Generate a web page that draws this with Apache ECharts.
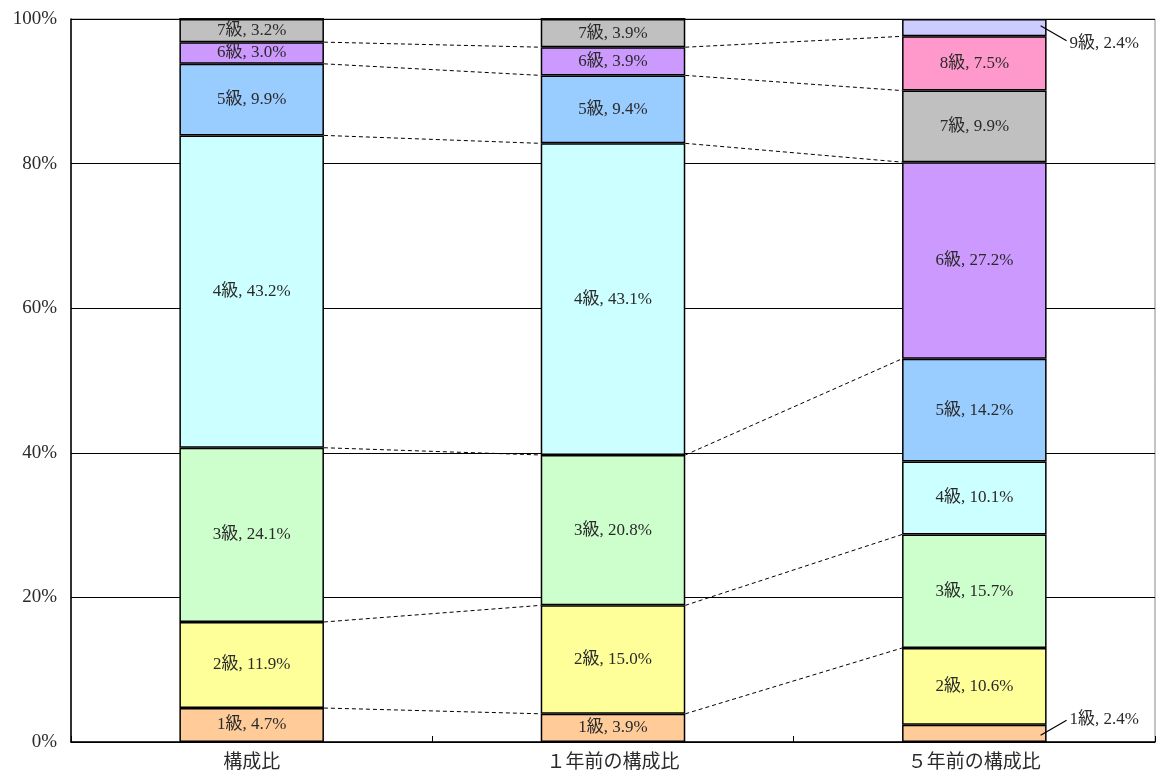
<!DOCTYPE html>
<html><head><meta charset="utf-8">
<script src="https://cdn.jsdelivr.net/npm/echarts@6/dist/echarts.min.js"></script>
<style>html,body{margin:0;padding:0;background:#fff}#c{width:1159px;height:781px}</style>
</head><body><div id="c"></div>
<script>
const categories = ['構成比', '１年前の構成比', '５年前の構成比'];
const grades = ['1級','2級','3級','4級','5級','6級','7級','8級','9級'];
const g1 = [4.7, 3.9, 2.4];
const g2 = [11.9, 15.0, 10.6];
const g3 = [24.1, 20.8, 15.7];
const g4 = [43.2, 43.1, 10.1];
const g5 = [9.9, 9.4, 14.2];
const g6 = [3.0, 3.9, 27.2];
const g7 = [3.2, 3.9, 9.9];
const g8 = [0, 0, 7.5];
const g9 = [0, 0, 2.4];
const colors = ['#FFCC99','#FFFF99','#CCFFCC','#CCFFFF','#99CCFF','#CC99FF','#C0C0C0','#FF99CC','#CCCCFF'];
// series-line links: [fromCategory, fromGradeTop, toCategory, toGradeTop]
const links = [
  [0,0,1,0],[0,1,1,1],[0,2,1,2],[0,3,1,3],[0,4,1,4],[0,5,1,5],
  [1,0,2,1],[1,1,2,2],[1,2,2,4],[1,3,2,5],[1,4,2,6],[1,5,2,7]
];
// labels placed outside the bar: [category, grade]
const outsideLabels = [[2,0],[2,8]];

const values = [g1,g2,g3,g4,g5,g6,g7,g8,g9];
const cum = categories.map((_, c) => {
  let s = 0; return values.map(v => (s += v[c]));
});
const FONT = '"Liberation Serif", "Noto Sans CJK JP", serif';
const BAR_FRAC = 0.4;
const TXT = '#2a2a2a';

const series = grades.map((g, i) => ({
  name: g, type: 'bar', stack: 'a', barWidth: '40%',
  itemStyle: { color: colors[i], borderColor: '#000', borderWidth: 1.5 },
  label: {
    show: true, position: 'inside', color: TXT, fontFamily: FONT, fontSize: 17,
    formatter: p => (p.value > 0 && !outsideLabels.some(o => o[0] === p.dataIndex && o[1] === i)) ? g + ', ' + p.value.toFixed(1) + '%' : ''
  },
  data: values[i],
  z: 3
}));

series.push({
  type: 'custom', z: 2, silent: true,
  data: links.map(l => [l[0], cum[l[0]][l[1]], l[2], cum[l[2]][l[3]]]),
  renderItem: (params, api) => {
    const hw = api.size([1, 0])[0] * BAR_FRAC / 2;
    const a = api.coord([api.value(0), api.value(1)]);
    const b = api.coord([api.value(2), api.value(3)]);
    return { type: 'line', shape: { x1: a[0] + hw, y1: a[1], x2: b[0] - hw, y2: b[1] },
      style: { stroke: '#000', lineWidth: 1, lineDash: [4, 3] } };
  }
});

series.push({
  type: 'custom', z: 4, silent: true,
  data: outsideLabels.map(o => [o[0], cum[o[0]][o[1]] - values[o[1]][o[0]] / 2, o[1]]),
  renderItem: (params, api) => {
    const hw = api.size([1, 0])[0] * BAR_FRAC / 2;
    const gi = api.value(2);
    const ci = api.value(0);
    const p = api.coord([ci, api.value(1)]);
    const up = gi === 0;
    const x1 = p[0] + hw - 6, y1 = p[1] + (up ? 2 : -2);
    const x2 = p[0] + hw + 20, y2 = up ? p[1] - 13 : p[1] + 13;
    return { type: 'group', children: [
      { type: 'line', shape: { x1, y1, x2, y2 }, style: { stroke: '#000', lineWidth: 1.2 } },
      { type: 'text', x: x2 + 3, y: up ? y2 - 1 : y2 + 3, style: {
        text: grades[gi] + ', ' + values[gi][ci].toFixed(1) + '%', fill: TXT,
        font: '17px ' + FONT, textAlign: 'left', textVerticalAlign: 'middle' } }
    ]};
  }
});

const chart = echarts.init(document.getElementById('c'));
chart.setOption({
  animation: false,
  grid: { left: 71, right: 4, top: 19, bottom: 39, show: true, borderColor: '#888', borderWidth: 1 },
  xAxis: {
    type: 'category', data: categories,
    axisLine: { lineStyle: { color: '#000', width: 1.5 } },
    axisTick: { show: true, inside: true, length: 6, lineStyle: { color: '#000' } },
    axisLabel: { color: TXT, fontSize: 19, fontFamily: FONT, margin: 12 }
  },
  yAxis: {
    type: 'value', min: 0, max: 100, interval: 20,
    axisLine: { show: true, lineStyle: { color: '#000', width: 1.5 } },
    axisTick: { show: true, inside: true, length: 6, lineStyle: { color: '#000' } },
    axisLabel: { formatter: '{value}%', color: TXT, fontSize: 19, fontFamily: FONT, margin: 14 },
    splitLine: { lineStyle: { color: '#000', width: 1 } }
  },
  series
});
</script></body></html>
